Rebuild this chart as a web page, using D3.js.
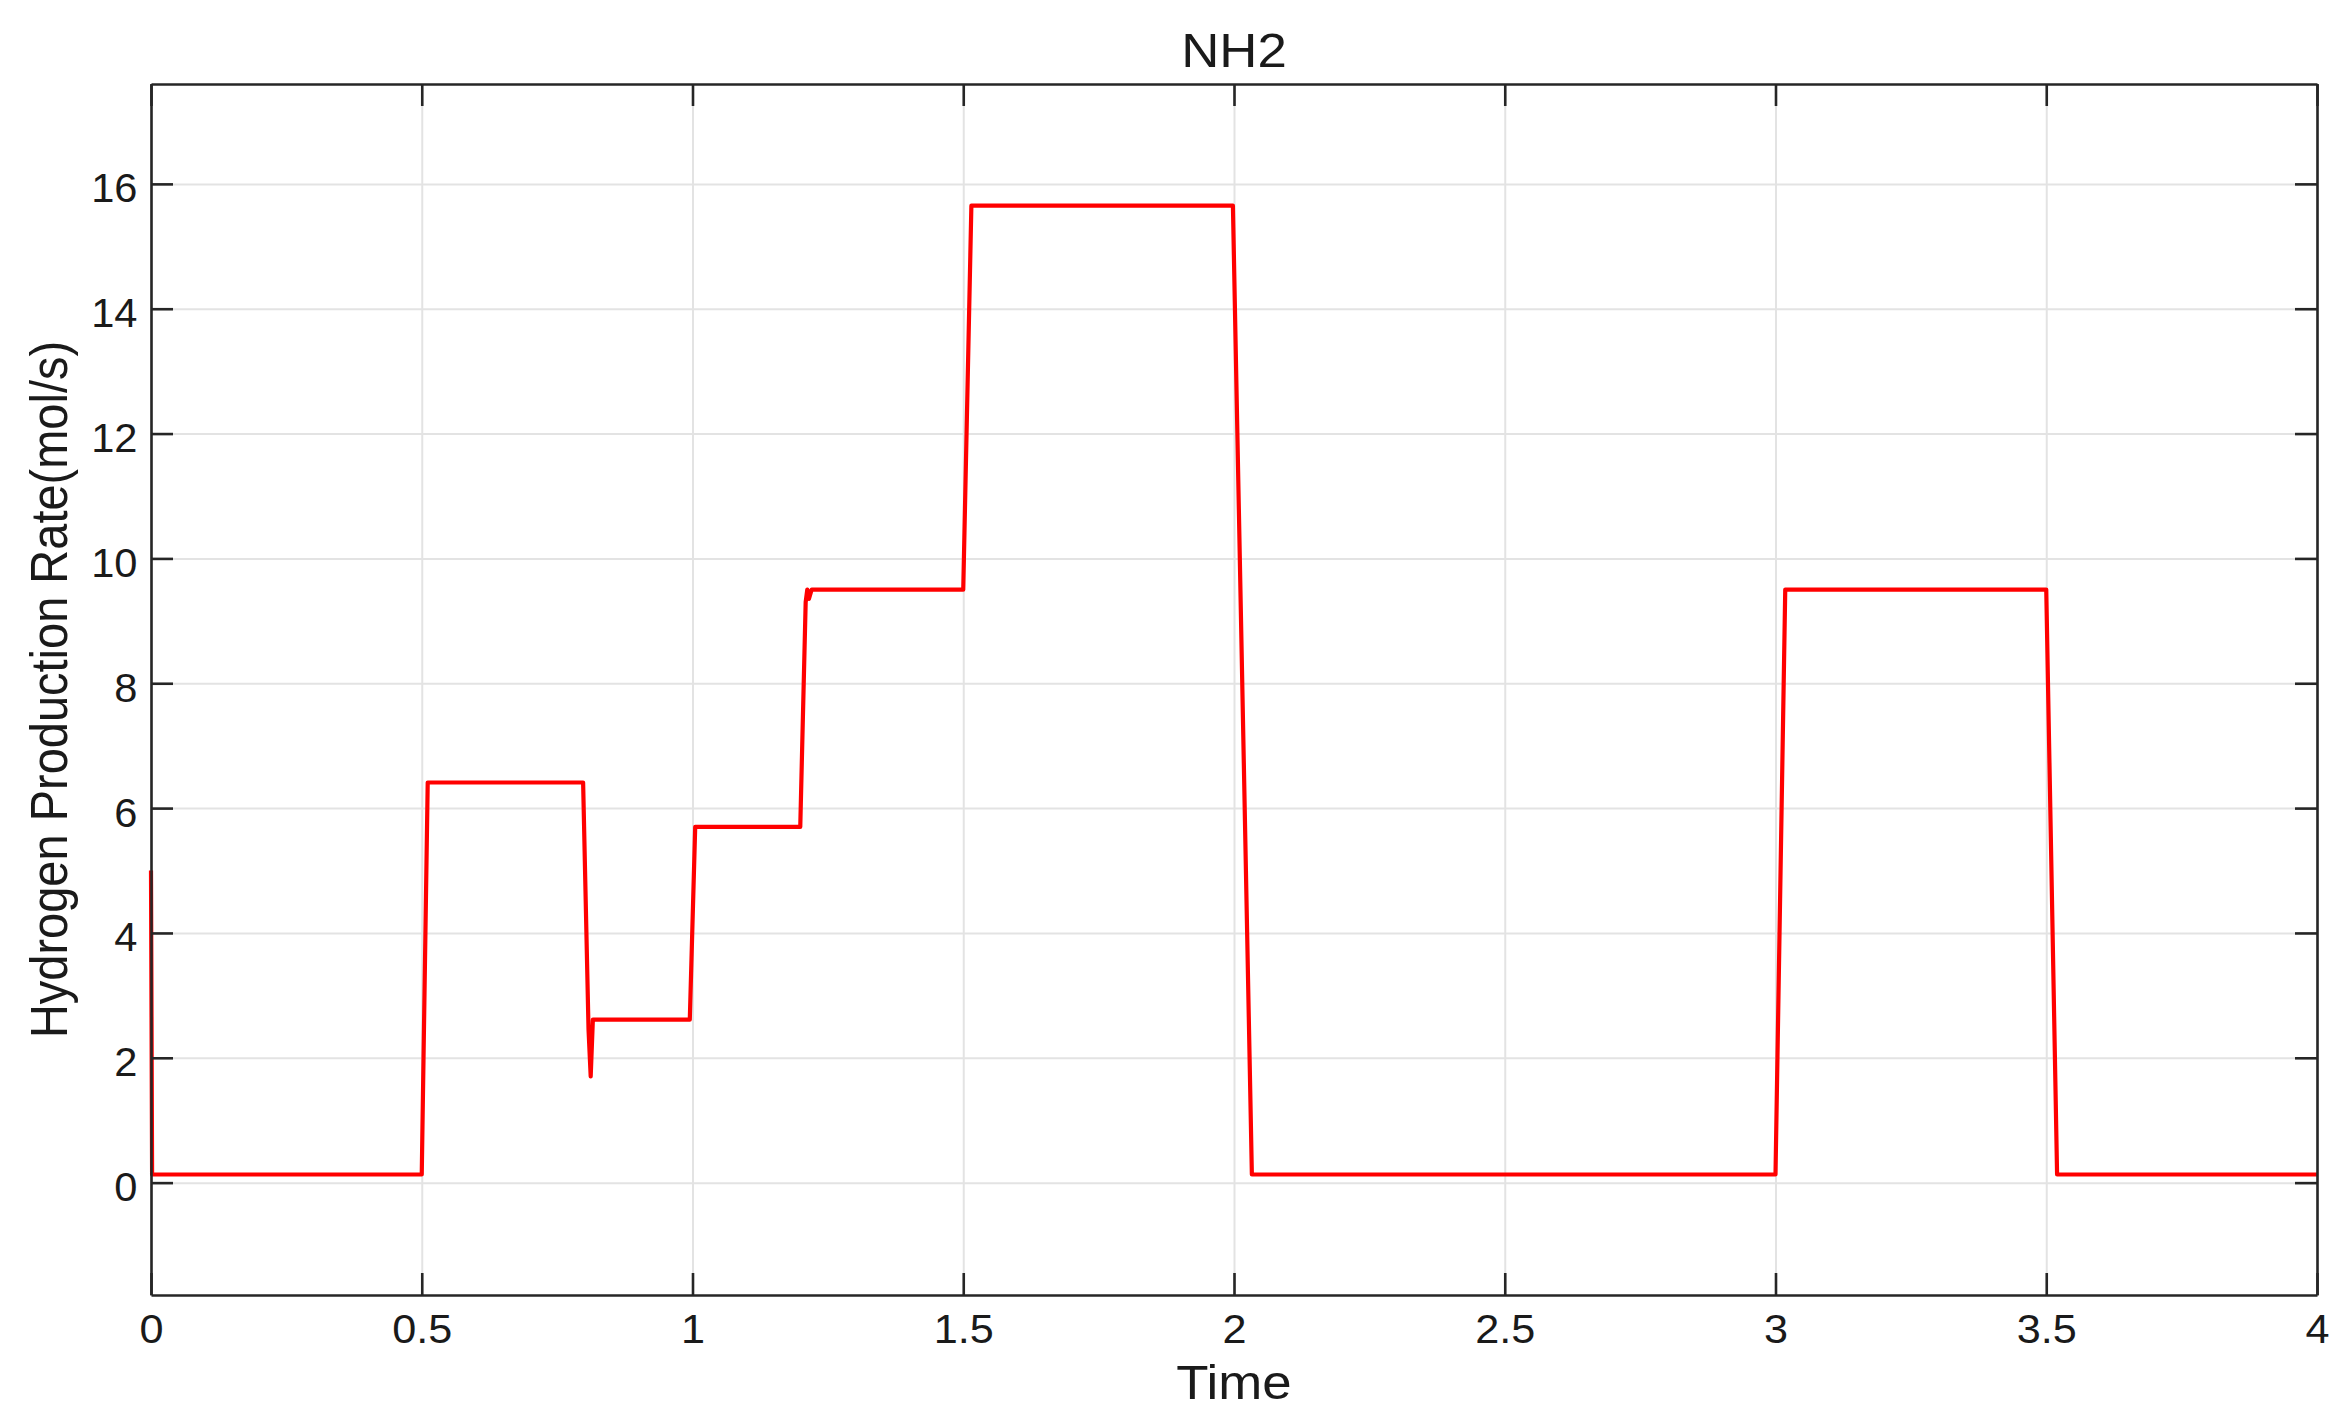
<!DOCTYPE html>
<html>
<head>
<meta charset="utf-8">
<script src="https://cdn.jsdelivr.net/npm/d3@7"></script>
<style>
  html, body { margin: 0; padding: 0; background: #ffffff; }
  svg { display: block; }
  text { font-family: "Liberation Sans", Arial, Helvetica, sans-serif; fill: #1a1a1a; }
</style>
</head>
<body>
<svg id="chart" width="2349" height="1420"></svg>
<script>
// ---- data ----
const times = [0, 0.002, 0.5, 0.511, 0.798, 0.808, 0.812, 0.816, 0.995, 1.005, 1.199, 1.209, 1.212, 1.215, 1.22, 1.5, 1.515, 1.998, 2.033, 3.0, 3.018, 3.5, 3.52, 4.0];
const rates = [5.0, 0.13, 0.13, 6.41, 6.41, 2.45, 1.70, 2.61, 2.61, 5.70, 5.70, 9.30, 9.50, 9.35, 9.50, 9.50, 15.65, 15.65, 0.13, 0.13, 9.50, 9.50, 0.13, 0.13];
const xTicks = [0, 0.5, 1, 1.5, 2, 2.5, 3, 3.5, 4];
const xTickLabels = ["0", "0.5", "1", "1.5", "2", "2.5", "3", "3.5", "4"];
const yTicks = [0, 2, 4, 6, 8, 10, 12, 14, 16];
const yTickLabels = ["0", "2", "4", "6", "8", "10", "12", "14", "16"];
const xDomain = [0, 4];
const yDomain = [-1.8, 17.6];
const titleText = "NH2";
const xLabelText = "Time";
const yLabelText = "Hydrogen Production Rate(mol/s)";

// ---- layout ----
const pL = 151, pR = 2317, pT = 84, pB = 1295;
const W = pR - pL, H = pB - pT;
const axisColor = "#262626";
const gridColor = "#e3e3e3";

const svg = d3.select("#chart");
const x = d3.scaleLinear().domain(xDomain).range([pL, pR]);
const y = d3.scaleLinear().domain(yDomain).range([pB, pT]);

// grid
svg.append("g")
  .attr("transform", `translate(0,${pB})`)
  .call(d3.axisBottom(x).tickValues(xTicks).tickSize(-H).tickFormat(""))
  .call(g => g.select(".domain").remove())
  .call(g => g.selectAll("line").attr("stroke", gridColor).attr("stroke-width", 2));
svg.append("g")
  .attr("transform", `translate(${pL},0)`)
  .call(d3.axisLeft(y).tickValues(yTicks).tickSize(-W).tickFormat(""))
  .call(g => g.select(".domain").remove())
  .call(g => g.selectAll("line").attr("stroke", gridColor).attr("stroke-width", 2));

// data line
svg.append("path")
  .datum(times.map((t, i) => [t, rates[i]]))
  .attr("fill", "none")
  .attr("stroke", "#ff0000")
  .attr("stroke-width", 4.2)
  .attr("stroke-linejoin", "round")
  .attr("d", d3.line().x(d => x(d[0])).y(d => y(d[1])));

// axes (box with inward ticks)
const tickLen = 22;
function styleAxis(g) {
  g.select(".domain").attr("stroke", axisColor).attr("stroke-width", 2.6);
  g.selectAll(".tick line").attr("stroke", axisColor).attr("stroke-width", 2.6);
  g.selectAll("text").attr("font-size", 40).attr("fill", "#1a1a1a")
    .attr("font-family", "'Liberation Sans', Arial, Helvetica, sans-serif");
}
svg.append("g")
  .attr("transform", `translate(0,${pB})`)
  .call(d3.axisBottom(x).tickValues(xTicks).tickSize(-tickLen).tickSizeOuter(0)
    .tickPadding(20).tickFormat((d, i) => xTickLabels[i]))
  .call(styleAxis)
  .call(g => g.selectAll("text").attr("transform", "scale(1.08,1)"));
svg.append("g")
  .attr("transform", `translate(0,${pT})`)
  .call(d3.axisTop(x).tickValues(xTicks).tickSize(-tickLen).tickSizeOuter(0).tickFormat(""))
  .call(styleAxis);
svg.append("g")
  .attr("transform", `translate(${pL},0)`)
  .call(d3.axisLeft(y).tickValues(yTicks).tickSize(-tickLen).tickSizeOuter(0)
    .tickPadding(13).tickFormat((d, i) => yTickLabels[i]))
  .call(styleAxis)
  .call(g => g.selectAll("text").attr("dy", "0.45em").attr("transform", "scale(1.04,1)"));
svg.append("g")
  .attr("transform", `translate(${pR},0)`)
  .call(d3.axisRight(y).tickValues(yTicks).tickSize(-tickLen).tickSizeOuter(0).tickFormat(""))
  .call(styleAxis);

// title & labels
svg.append("text")
  .attr("transform", `translate(${(pL + pR) / 2},67) scale(1.1,1)`)
  .attr("text-anchor", "middle")
  .attr("font-size", 48)
  .text(titleText);
svg.append("text")
  .attr("transform", `translate(${(pL + pR) / 2},1399) scale(1.1,1)`)
  .attr("text-anchor", "middle")
  .attr("font-size", 48)
  .text(xLabelText);
svg.append("text")
  .attr("transform", `translate(67,${(pT + pB) / 2}) scale(1.1,1) rotate(-90)`)
  .attr("text-anchor", "middle")
  .attr("font-size", 47)
  .text(yLabelText);
</script>
</body>
</html>
